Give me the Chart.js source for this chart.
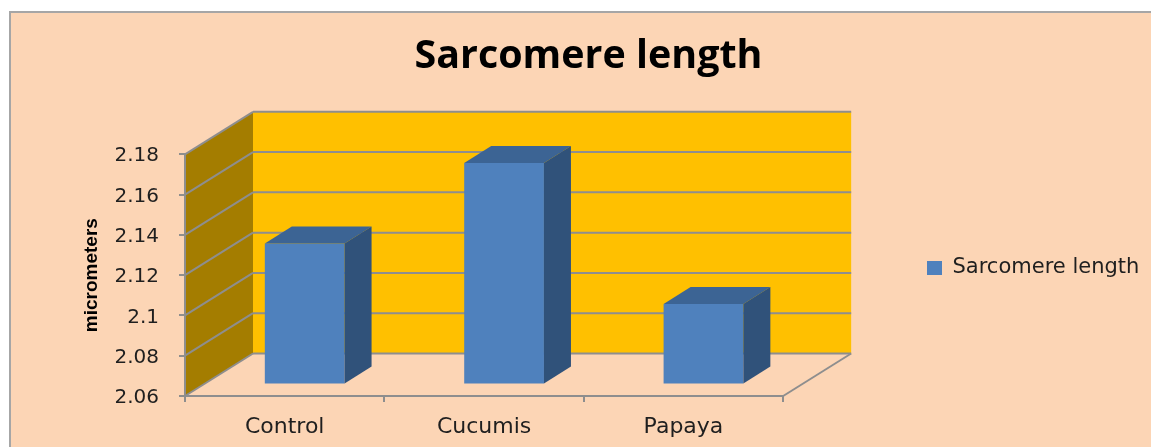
<!DOCTYPE html>
<html><head><meta charset="utf-8">
<style>html,body{margin:0;padding:0;background:#fff;overflow:hidden}canvas{display:block}</style>
<script src="https://cdn.jsdelivr.net/npm/chart.js@4"></script>
</head><body><canvas id="c" width="1151" height="447" style="width:1151px;height:447px"></canvas>
<script>
const categories = ['Control', 'Cucumis', 'Papaya'];
const seriesName = 'Sarcomere length';
const seriesValues = [2.13, 2.17, 2.10];
const chartTitle = 'Sarcomere length';
const yAxisTitle = 'micrometers';
const yMin = 2.06;
const yMax = 2.18;
const yStep = 0.02;

const GRID = '#8e8e8e';
const DEPTH = {x: 68, y: -42.5};
const BAR_SHIFT = {x: 20, y: -11.5};
const BAR_DEPTH = {x: 27, y: -17};
const poly = (ctx, pts, fill) => {
  ctx.beginPath(); pts.forEach((p, i) => i ? ctx.lineTo(p[0], p[1]) : ctx.moveTo(p[0], p[1]));
  ctx.closePath(); ctx.fillStyle = fill; ctx.fill();
};
const seg = (ctx, a, b, w = 2) => {
  ctx.beginPath(); ctx.moveTo(a[0], a[1]); ctx.lineTo(b[0], b[1]);
  ctx.strokeStyle = GRID; ctx.lineWidth = w; ctx.stroke();
};
const scene = {
  id: 'scene',
  afterLayout(chart) {
    const lg = chart.legend;
    lg.left = 920; lg.top = 89; lg.bottom = 447;
  },
  beforeDraw(chart) {
    const {ctx, chartArea: a, scales: {y}} = chart;
    ctx.save();
    ctx.fillStyle = '#FCD5B5'; ctx.fillRect(9, 11, 1142, 436);
    ctx.fillStyle = '#A6A6A6'; ctx.fillRect(9, 11, 1142, 2); ctx.fillRect(9, 11, 2, 436);
    const dx = DEPTH.x, dy = DEPTH.y;
    poly(ctx, [[a.left + dx, a.top + dy], [a.right + dx, a.top + dy], [a.right + dx, a.bottom + dy], [a.left + dx, a.bottom + dy]], '#FFC000');
    poly(ctx, [[a.left, a.top], [a.left + dx, a.top + dy], [a.left + dx, a.bottom + dy], [a.left, a.bottom]], '#A47D00');
    y.ticks.forEach(t => {
      const p = y.getPixelForValue(t.value);
      seg(ctx, [a.left, p], [a.left + dx, p + dy]);
      seg(ctx, [a.left + dx, p + dy], [a.right + dx, p + dy]);
    });
    seg(ctx, [a.right, a.bottom], [a.right + dx, a.bottom + dy]);
    ctx.restore();
  },
  beforeDatasetsDraw(chart) {
    const {ctx} = chart;
    ctx.save();
    ctx.translate(BAR_SHIFT.x, BAR_SHIFT.y);
  },
  afterDatasetsDraw(chart) {
    const {ctx} = chart;
    chart.getDatasetMeta(0).data.forEach(b => {
      const l = b.x - b.width / 2, r = b.x + b.width / 2, t = b.y, bt = b.base;
      const ox = BAR_DEPTH.x, oy = BAR_DEPTH.y;
      poly(ctx, [[l, t], [l + ox, t + oy], [r + ox, t + oy], [r, t]], '#3C6494');
      poly(ctx, [[r, t], [r + ox, t + oy], [r + ox, bt + oy], [r, bt]], '#30527A');
    });
    ctx.restore();
  }
};

new Chart(document.getElementById('c'), {
  type: 'bar',
  plugins: [scene],
  data: {
    labels: categories,
    datasets: [{label: seriesName, data: seriesValues, backgroundColor: '#4F81BD', borderWidth: 0, base: yMin,
      categoryPercentage: 1, barPercentage: 0.4, clip: false}]
  },
  options: {
    responsive: false, animation: false, devicePixelRatio: 1,
    layout: {padding: {left: 31, right: 5, top: 0, bottom: 0}},
    plugins: {
      tooltip: {enabled: false},
      title: {display: true, text: chartTitle, color: '#000',
        font: {family: '"Open Sans"', size: 39.4, weight: 'bold', lineHeight: 1.2},
        padding: {top: 33, bottom: 74}},
      legend: {position: 'right',
        labels: {boxWidth: 15, boxHeight: 14, padding: 7, color: '#1f1f1f',
          font: {family: '"DejaVu Sans"', size: 21}}}
    },
    scales: {
      x: {
        grid: {drawOnChartArea: false, color: GRID, lineWidth: 2, tickLength: 6, offset: true},
        border: {color: GRID, width: 2},
        ticks: {color: '#1f1f1f', padding: 12, maxRotation: 0, font: {family: '"DejaVu Sans"', size: 22}},
        afterFit(s) { s.height = 51; }
      },
      y: {
        min: yMin, max: yMax,
        grid: {drawOnChartArea: false, color: GRID, lineWidth: 2, tickLength: 6},
        border: {color: GRID, width: 2},
        ticks: {stepSize: yStep, autoSkip: false, color: '#1f1f1f', padding: 20, labelOffset: 2,
          font: {family: '"DejaVu Sans"', size: 20},
          callback: v => String(Number(v.toFixed(2)))},
        title: {display: true, text: yAxisTitle, color: '#000', padding: {top: 49, bottom: 0},
          font: {family: '"Liberation Sans"', size: 19, weight: 'bold'}},
        afterFit(s) { s.width = 154; }
      },
      spacer: {
        position: 'right', display: true,
        grid: {display: false}, border: {display: false}, ticks: {display: false},
        afterFit(s) { s.width = 177; }
      }
    }
  }
});
</script></body></html>
